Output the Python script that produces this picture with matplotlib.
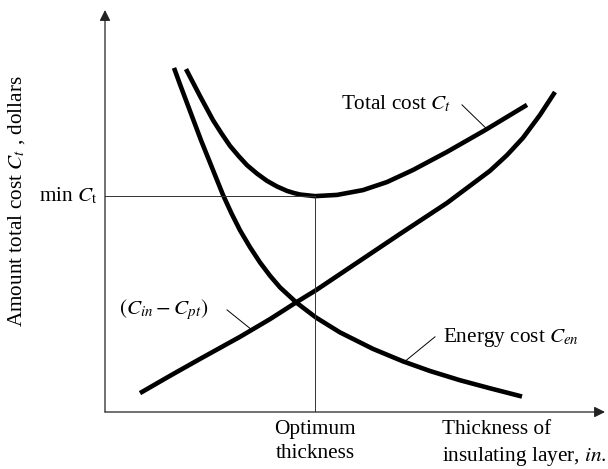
import matplotlib
matplotlib.use("Agg")
import matplotlib.pyplot as plt

plt.rcParams['font.family'] = ['Liberation Serif', 'DejaVu Serif']
plt.rcParams['mathtext.fontset'] = 'stix'

# curves (x: thickness, y: cost, arbitrary units 0-10)
energy_x = [1.38, 1.50, 1.92, 2.36, 2.53, 2.70, 2.90, 3.10, 3.30, 3.50, 3.84, 4.22, 4.70, 5.36, 5.96, 6.50, 7.10, 7.70, 8.34]
energy_y = [8.56, 8.15, 6.76, 5.40, 4.94, 4.52, 4.10, 3.72, 3.39, 3.10, 2.71, 2.35, 1.98, 1.57, 1.26, 1.02, 0.79, 0.59, 0.385]

total_x = [1.62, 1.90, 2.16, 2.33, 2.50, 2.67, 2.84, 3.04, 3.24, 3.44, 3.64, 3.77, 3.90, 4.20,
           4.64, 5.16, 5.64, 6.16, 6.84, 7.60, 8.44]
total_y = [8.53, 7.86, 7.26, 6.93, 6.62, 6.37, 6.14, 5.93, 5.75, 5.61, 5.50, 5.45, 5.41, 5.37,
           5.40, 5.52, 5.72, 6.02, 6.47, 7.01, 7.64]

diff_x = [0.70, 1.30, 1.90, 2.70, 3.30, 3.84, 4.22, 4.70, 5.36, 5.90, 6.84, 7.70, 8.04, 8.36, 8.70, 9.00]
diff_y = [0.47, 0.90, 1.32, 1.87, 2.31, 2.74, 3.03, 3.43, 3.98, 4.43, 5.20, 6.00, 6.39, 6.82, 7.39, 7.96]

# optimum = minimum of the total cost curve
i_min = total_y.index(min(total_y))
opt_x = total_x[i_min]
min_ct = total_y[i_min]

fig = plt.figure(figsize=(6.08, 4.69), dpi=100)
ax = fig.add_axes([105 / 608, 57 / 469, 500 / 608, 402 / 469])
ax.set_xlim(0, 10)
ax.set_ylim(0, 10)
ax.axis('off')

# axes with arrow heads
arrow = dict(arrowstyle='-|>', color='#222222', lw=0.9, mutation_scale=16, shrinkA=0, shrinkB=0)
ax.annotate('', xy=(10, 0), xytext=(0, 0), arrowprops=arrow, annotation_clip=False)
ax.annotate('', xy=(0, 10), xytext=(0, 0), arrowprops=arrow, annotation_clip=False)

curve = dict(color='black', lw=3.3, solid_capstyle='butt', solid_joinstyle='round')
ax.plot(energy_x, energy_y, **curve)
ax.plot(total_x, total_y, **curve)
ax.plot(diff_x, diff_y, **curve)

# guide lines to the optimum
ax.plot([0, opt_x], [min_ct, min_ct], color='#333333', lw=0.7)
ax.plot([opt_x, opt_x], [0, min_ct], color='#333333', lw=0.7)

fs = 15.3
ax.text(4.72, 7.66, 'Total cost $C_t$', fontsize=fs, va='center', ha='left')
ax.plot([7.14, 7.62], [7.64, 7.06], color='black', lw=0.7)

ax.text(6.76, 1.85, 'Energy cost $C_{en}$', fontsize=fs, va='center', ha='left')
ax.plot([6.60, 5.96], [1.87, 1.22], color='black', lw=0.7)

ax.text(0.28, 2.54, r'$(C_{in} - C_{pt})$', fontsize=fs, va='center', ha='left')
ax.plot([2.44, 2.94], [2.54, 2.04], color='black', lw=0.7)

ax.text(-0.14, min_ct, r'min $C_{\mathrm{t}}$', fontsize=fs, va='center', ha='right')

ax.text(-1.76, 5.25, 'Amount total cost $C_t$ , dollars', fontsize=fs, va='center', ha='center',
        rotation=90)

ax.text(opt_x, -0.2, 'Optimum\nthickness', fontsize=fs, va='top', ha='center', linespacing=1.35)
ax.text(6.74, -0.2, 'Thickness of\ninsulating layer, $in.$', fontsize=fs, va='top', ha='left',
        linespacing=1.35)

fig.savefig('out.png', dpi=100, facecolor='white')
